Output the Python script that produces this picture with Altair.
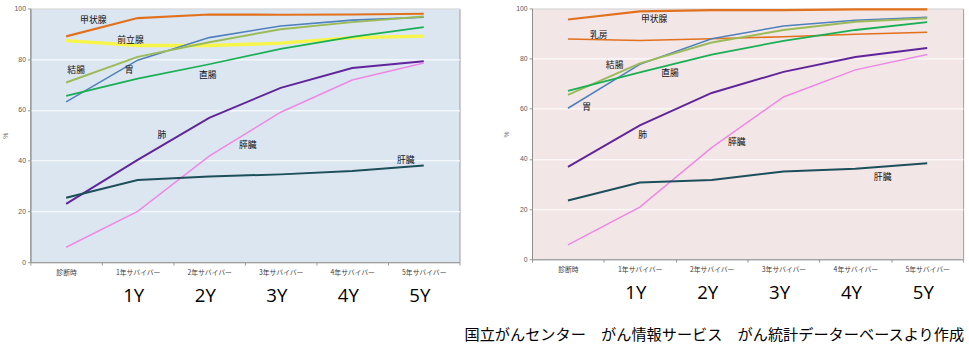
import altair as alt
import pandas as pd

cats = ['診断時', '1年サバイバー', '2年サバイバー', '3年サバイバー', '4年サバイバー', '5年サバイバー']
year_labels = ['1Y', '2Y', '3Y', '4Y', '5Y']
year_cats = cats[1:]

# Left panel
left_names = ['甲状腺', '前立腺', '胃', '結腸', '直腸', '肺', '膵臓', '肝臓']
left_thyroid = [89.0, 96.2, 97.6, 97.5, 97.6, 97.9]
left_prostate = [87.3, 85.4, 85.4, 86.3, 88.5, 89.1]
left_stomach = [63.2, 79.6, 88.5, 93.1, 95.4, 96.5]
left_colon = [70.8, 80.9, 86.7, 91.8, 94.6, 96.8]
left_rectum = [65.5, 72.3, 78.0, 84.1, 88.8, 92.6]
left_lung = [23.0, 40.3, 56.9, 68.7, 76.5, 79.2]
left_pancreas = [5.9, 20.0, 41.8, 59.1, 71.8, 78.5]
left_liver = [25.4, 32.4, 33.8, 34.6, 35.9, 38.1]
left_values = [left_thyroid, left_prostate, left_stomach, left_colon,
               left_rectum, left_lung, left_pancreas, left_liver]
left_colors = ['#e2711d', '#f7f54a', '#4f81bd', '#9bbb59', '#1aaf54', '#60259a', '#ee88e4', '#1c4f5a']
left_widths = [2.2, 3.4, 1.6, 2, 1.8, 2, 1.5, 2]
# label anchors (category units, %)
left_ann_x = [0.38, 0.90, 0.88, 0.14, 1.98, 1.34, 2.54, 4.75]
left_ann_y = [95.4, 87.7, 75.8, 75.8, 73.8, 50.0, 46.2, 40.4]

# Right panel
right_names = ['甲状腺', '乳房', '胃', '結腸', '直腸', '肺', '膵臓', '肝臓']
right_thyroid = [95.6, 98.8, 99.3, 99.3, 99.6, 99.6]
right_breast = [87.8, 87.2, 87.9, 88.7, 89.7, 90.5]
right_stomach = [60.2, 77.7, 87.9, 93.0, 95.3, 96.5]
right_colon = [65.5, 78.1, 86.4, 91.4, 94.7, 96.1]
right_rectum = [67.1, 74.5, 81.6, 87.1, 91.4, 94.5]
right_lung = [36.8, 53.4, 66.3, 74.7, 80.6, 84.2]
right_pancreas = [5.7, 20.8, 44.5, 64.7, 75.5, 81.6]
right_liver = [23.4, 30.6, 31.6, 35.0, 36.1, 38.3]
right_values = [right_thyroid, right_breast, right_stomach, right_colon,
                right_rectum, right_lung, right_pancreas, right_liver]
right_colors = ['#e2711d', '#d99694', '#4f81bd', '#9bbb59', '#1aaf54', '#60259a', '#ee88e4', '#1c4f5a']
right_widths = [2.2, 1.6, 1.6, 2, 1.8, 2, 1.5, 2]
right_ann_x = [1.20, 0.43, 0.26, 0.65, 1.42, 1.04, 2.35, 4.38]
right_ann_y = [95.7, 89.5, 60.5, 77.3, 74.2, 49.6, 46.9, 32.8]

caption = '国立がんセンター　がん情報サービス　がん統計データーベースより作成'

JP = 'Noto Sans CJK JP'


def panel(names, values, colors, widths, ann_x, ann_y, bg, w, h):
    rows = []
    for n, vals, sw in zip(names, values, widths):
        for c, v in zip(cats, vals):
            rows.append({'cat': c, 'val': v, 'series': n, 'sw': sw})
    df = pd.DataFrame(rows)
    xscale = alt.Scale(type='band', domain=cats, paddingInner=0, paddingOuter=0)
    lines = alt.Chart(df).mark_line().encode(
        x=alt.X('cat:N', sort=cats, scale=xscale, bandPosition=0.5,
                axis=alt.Axis(title=None, labelAngle=0, labelFontSize=7, labelColor='#404040',
                              labelFont=JP, tickBand='extent', tickSize=3, tickColor='#9a9a9a',
                              domainColor='#8c8c8c', labelPadding=4, grid=False)),
        y=alt.Y('val:Q', scale=alt.Scale(domain=[0, 100], nice=False),
                axis=alt.Axis(values=[0, 20, 40, 60, 80, 100], title='%', titleFontSize=7,
                              titleFontWeight='normal', titleColor='#595959', titlePadding=6,
                              labelFontSize=7, labelColor='#595959', gridColor='#ffffff',
                              gridWidth=1, tickSize=3, tickColor='#9a9a9a', domainColor='#8c8c8c',
                              labelPadding=2)),
        color=alt.Color('series:N', scale=alt.Scale(domain=names, range=colors), legend=None),
        strokeWidth=alt.StrokeWidth('sw:Q', scale=None, legend=None),
        detail='series:N',
    )
    ann = pd.DataFrame({'name': names, 'pos': ann_x, 'val': ann_y})
    text = alt.Chart(ann).mark_text(fontSize=9, font=JP, color='#111111').encode(
        x=alt.X('pos:Q', scale=alt.Scale(domain=[-0.5, 5.5], nice=False, zero=False), axis=None),
        y=alt.Y('val:Q'),
        text='name:N',
    )
    plot = alt.layer(lines, text).resolve_scale(x='independent').properties(
        width=w, height=h, view=alt.ViewBackground(fill=bg, stroke='#9a9a9a', strokeWidth=1))
    ydf = pd.DataFrame({'cat': year_cats, 'label': year_labels})
    yrow = alt.Chart(ydf).mark_text(fontSize=19, font='Open Sans', color='#000000', dx=-4).encode(
        x=alt.X('cat:N', sort=cats, scale=xscale, bandPosition=0.5, axis=None),
        text='label:N',
    ).properties(width=w, height=24, view=alt.ViewBackground(stroke=None, fill=None))
    return alt.vconcat(plot, yrow, spacing=8)


left = panel(left_names, left_values, left_colors, left_widths, left_ann_x, left_ann_y, '#dce6f1', 438, 259)
right = panel(right_names, right_values, right_colors, right_widths, right_ann_x, right_ann_y, '#f2e6e7', 440, 256)

chart = alt.hconcat(left, right, spacing=42).properties(
    title=alt.TitleParams(caption, orient='bottom', anchor='end', fontSize=15.5, font=JP,
                          fontWeight='normal', color='#000000', offset=20),
    padding={'left': 0, 'top': 0, 'right': 5, 'bottom': 2},
    background='#ffffff',
).configure_view(strokeWidth=1)

chart.save('out.html', embed_options={'renderer': 'svg', 'actions': False})
